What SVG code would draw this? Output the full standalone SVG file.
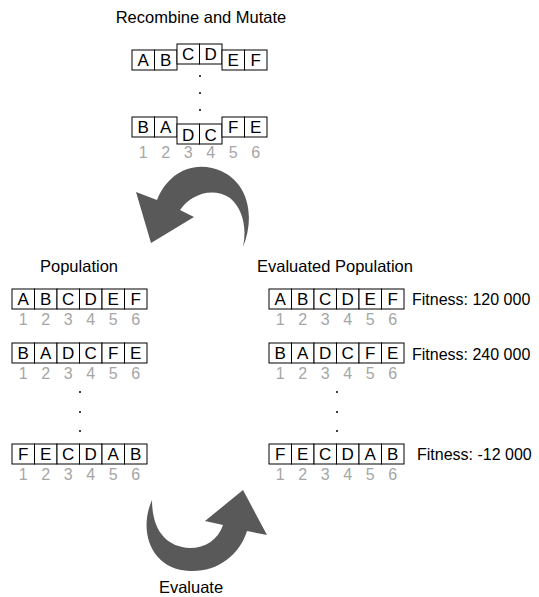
<svg xmlns="http://www.w3.org/2000/svg" width="539" height="597" viewBox="0 0 539 597">
<style>
text{font-family:"Liberation Sans",Arial,sans-serif;}
.t{font-size:16.5px;fill:#000;}
.f{font-size:16px;fill:#000;}
.c rect{fill:#fff;stroke:#000;stroke-width:1;}
.c text{font-size:17px;fill:#000;text-anchor:middle;}
.c text.f{text-anchor:start;font-size:16px;}
.n{font-size:16px;fill:#a6a6a6;text-anchor:middle;}
.d{fill:#000;}
.arr{fill:#595959;}
</style>
<defs>
<g id="nums">
<text class="n" x="11.25" y="0">1</text><text class="n" x="33.75" y="0">2</text><text class="n" x="56.25" y="0">3</text><text class="n" x="78.75" y="0">4</text><text class="n" x="101.25" y="0">5</text><text class="n" x="123.75" y="0">6</text>
</g>
</defs>
<rect width="539" height="597" fill="#fff"/>

<g id="title-recombine"><text class="t" x="201" y="23" text-anchor="middle">Recombine and Mutate</text></g>
<g id="title-population"><text class="t" x="79" y="272" text-anchor="middle">Population</text></g>
<g id="title-evaluated"><text class="t" x="335" y="272" text-anchor="middle">Evaluated Population</text></g>
<g id="title-evaluate"><text class="t" x="191" y="593" text-anchor="middle">Evaluate</text></g>

<!-- Recombine rows -->
<g id="recomb-1" class="c">
<rect x="132" y="50" width="22.5" height="20"/><text x="143.25" y="66">A</text>
<rect x="154.5" y="50" width="22.5" height="20"/><text x="165.75" y="66">B</text>
<rect x="177" y="44" width="22.5" height="20"/><text x="188.25" y="60">C</text>
<rect x="199.5" y="44" width="22.5" height="20"/><text x="210.75" y="60">D</text>
<rect x="222" y="50" width="22.5" height="20"/><text x="233.25" y="66">E</text>
<rect x="244.5" y="50" width="22.5" height="20"/><text x="255.75" y="66">F</text>
</g>
<g id="recomb-dots"><circle class="d" cx="200" cy="76" r="1"/><circle class="d" cx="200" cy="93" r="1"/><circle class="d" cx="200" cy="110" r="1"/></g>
<g id="recomb-2" class="c">
<rect x="132" y="117" width="22.5" height="20"/><text x="143.25" y="133">B</text>
<rect x="154.5" y="117" width="22.5" height="20"/><text x="165.75" y="133">A</text>
<rect x="177" y="124" width="22.5" height="20"/><text x="188.25" y="141">D</text>
<rect x="199.5" y="124" width="22.5" height="20"/><text x="210.75" y="141">C</text>
<rect x="222" y="117" width="22.5" height="20"/><text x="233.25" y="133">F</text>
<rect x="244.5" y="117" width="22.5" height="20"/><text x="255.75" y="133">E</text>
<use href="#nums" x="132" y="158"/>
</g>

<!-- Population -->
<g id="pop-1" class="c">
<rect x="12" y="289" width="22.5" height="20"/><text x="23.25" y="305">A</text>
<rect x="34.5" y="289" width="22.5" height="20"/><text x="45.75" y="305">B</text>
<rect x="57" y="289" width="22.5" height="20"/><text x="68.25" y="305">C</text>
<rect x="79.5" y="289" width="22.5" height="20"/><text x="90.75" y="305">D</text>
<rect x="102" y="289" width="22.5" height="20"/><text x="113.25" y="305">E</text>
<rect x="124.5" y="289" width="22.5" height="20"/><text x="135.75" y="305">F</text>
<use href="#nums" x="12" y="325"/>
</g>
<g id="pop-2" class="c">
<rect x="12" y="343" width="22.5" height="20"/><text x="23.25" y="359">B</text>
<rect x="34.5" y="343" width="22.5" height="20"/><text x="45.75" y="359">A</text>
<rect x="57" y="343" width="22.5" height="20"/><text x="68.25" y="359">D</text>
<rect x="79.5" y="343" width="22.5" height="20"/><text x="90.75" y="359">C</text>
<rect x="102" y="343" width="22.5" height="20"/><text x="113.25" y="359">F</text>
<rect x="124.5" y="343" width="22.5" height="20"/><text x="135.75" y="359">E</text>
<use href="#nums" x="12" y="379"/>
</g>
<g id="pop-dots"><circle class="d" cx="80" cy="392" r="1"/><circle class="d" cx="80" cy="412" r="1"/><circle class="d" cx="80" cy="431" r="1"/></g>
<g id="pop-3" class="c">
<rect x="12" y="444" width="22.5" height="20"/><text x="23.25" y="460">F</text>
<rect x="34.5" y="444" width="22.5" height="20"/><text x="45.75" y="460">E</text>
<rect x="57" y="444" width="22.5" height="20"/><text x="68.25" y="460">C</text>
<rect x="79.5" y="444" width="22.5" height="20"/><text x="90.75" y="460">D</text>
<rect x="102" y="444" width="22.5" height="20"/><text x="113.25" y="460">A</text>
<rect x="124.5" y="444" width="22.5" height="20"/><text x="135.75" y="460">B</text>
<use href="#nums" x="12" y="480"/>
</g>

<!-- Evaluated population -->
<g id="eval-1" class="c">
<rect x="269" y="289" width="22.5" height="20"/><text x="280.25" y="305">A</text>
<rect x="291.5" y="289" width="22.5" height="20"/><text x="302.75" y="305">B</text>
<rect x="314" y="289" width="22.5" height="20"/><text x="325.25" y="305">C</text>
<rect x="336.5" y="289" width="22.5" height="20"/><text x="347.75" y="305">D</text>
<rect x="359" y="289" width="22.5" height="20"/><text x="370.25" y="305">E</text>
<rect x="381.5" y="289" width="22.5" height="20"/><text x="392.75" y="305">F</text>
<use href="#nums" x="269" y="325"/>
<text class="f" x="412" y="305">Fitness: 120 000</text>
</g>
<g id="eval-2" class="c">
<rect x="269" y="343" width="22.5" height="20"/><text x="280.25" y="359">B</text>
<rect x="291.5" y="343" width="22.5" height="20"/><text x="302.75" y="359">A</text>
<rect x="314" y="343" width="22.5" height="20"/><text x="325.25" y="359">D</text>
<rect x="336.5" y="343" width="22.5" height="20"/><text x="347.75" y="359">C</text>
<rect x="359" y="343" width="22.5" height="20"/><text x="370.25" y="359">F</text>
<rect x="381.5" y="343" width="22.5" height="20"/><text x="392.75" y="359">E</text>
<use href="#nums" x="269" y="379"/>
<text class="f" x="412" y="360">Fitness: 240 000</text>
</g>
<g id="eval-dots"><circle class="d" cx="337" cy="392" r="1"/><circle class="d" cx="337" cy="412" r="1"/><circle class="d" cx="337" cy="431" r="1"/></g>
<g id="eval-3" class="c">
<rect x="269" y="444" width="22.5" height="20"/><text x="280.25" y="460">F</text>
<rect x="291.5" y="444" width="22.5" height="20"/><text x="302.75" y="460">E</text>
<rect x="314" y="444" width="22.5" height="20"/><text x="325.25" y="460">C</text>
<rect x="336.5" y="444" width="22.5" height="20"/><text x="347.75" y="460">D</text>
<rect x="359" y="444" width="22.5" height="20"/><text x="370.25" y="460">A</text>
<rect x="381.5" y="444" width="22.5" height="20"/><text x="392.75" y="460">B</text>
<use href="#nums" x="269" y="480"/>
<text class="f" x="417" y="460">Fitness: -12 000</text>
</g>

<!-- Connectors -->
<g id="connectors">
<path class="arr" d="M 243 247 C 257 212 246 176 212 168 C 187 162 166 177 157 200 L 136 192 L 151 243 L 194 217 L 180 210 C 190 195 212 186 230 198 C 243 209 247 228 243 247 Z"/>
<path class="arr" d="M 152 500 C 138 531 151 570 190 571 C 217 572 239 556 247 531 L 267 535 L 243 490 L 205 521 L 223 525 C 218 540 205 548 190 548 C 166 547 152 530 152 500 Z"/>
</g>
</svg>
